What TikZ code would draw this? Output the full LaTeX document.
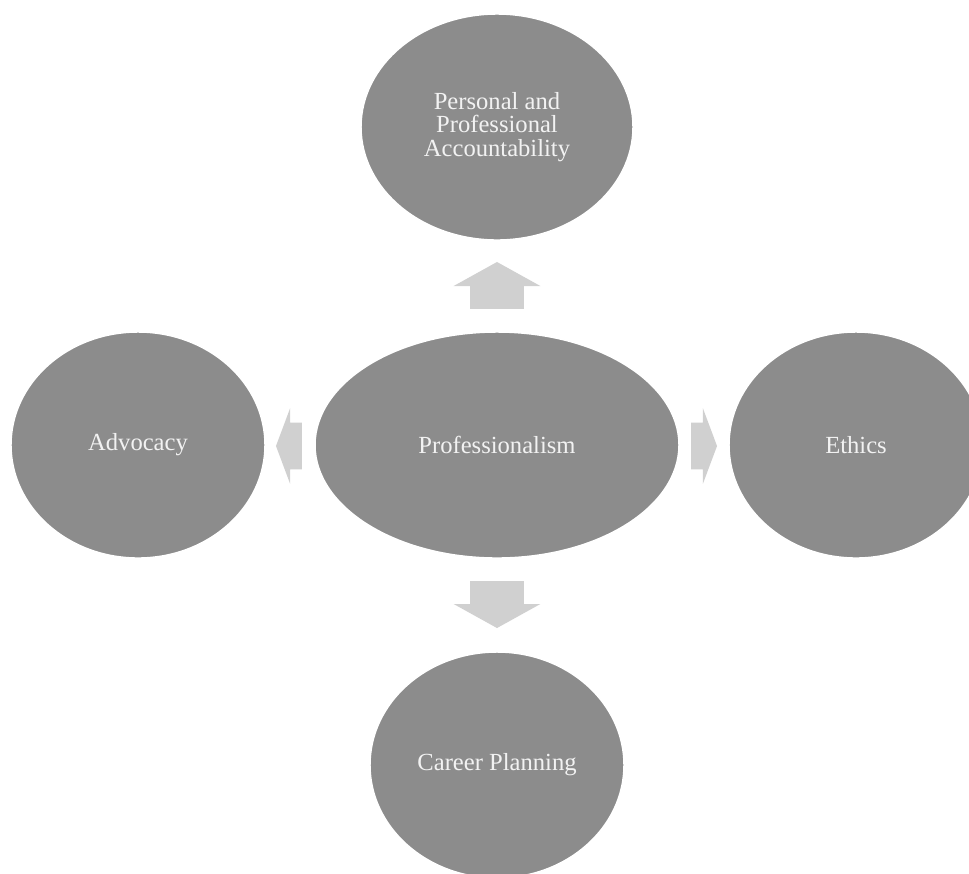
\documentclass[tikz,border=0pt]{standalone}
\usepackage{fontspec}
\setmainfont{Liberation Serif}
\usetikzlibrary{shapes.geometric,shapes.arrows,calc}
\definecolor{bubblegray}{HTML}{8C8C8C}
\definecolor{arrowgray}{HTML}{D0D0D0}
\definecolor{textwhite}{HTML}{F2F2F2}
\tikzset{
  bubble/.style={ellipse, fill=bubblegray, draw=white, line width=0.8pt, text=textwhite,
    align=center, inner sep=0pt, minimum height=4.52cm, font=\fontsize{14}{13.4}\selectfont},
  vblock/.style={single arrow, fill=arrowgray, draw=none, inner xsep=0pt, inner ysep=0.53cm,
    minimum height=0.94cm, single arrow head extend=0.33cm, single arrow tip angle=122, anchor=tail},
  hblock/.style={single arrow, fill=arrowgray, draw=none, inner xsep=0pt, inner ysep=0.46cm,
    minimum height=0.52cm, single arrow head extend=0.29cm, single arrow tip angle=139, anchor=tail}
}
\begin{document}
\begin{tikzpicture}[x=0.02cm, y=-0.02cm]
    \useasboundingbox (0,0) rectangle (969,873);
    \fill[white] (0,0) rectangle (969,873);
    \clip (0,0) rectangle (969,873);
    % the five bubbles
    \node[bubble, minimum width=5.44cm] (account) at (497,127) {Personal and\\Professional\\Accountability};
    \node[bubble, minimum width=7.28cm] (prof) at (497,445) {Professionalism};
    \node[bubble, minimum width=5.08cm] (advocacy) at (138,445) {Advocacy};
    \node[bubble, minimum width=5.08cm] (ethics) at (856,445) {Ethics};
    \node[bubble, minimum width=5.08cm] (career) at (497,765) {Career Planning};
    % block arrows out of the middle bubble
    \node[vblock, rotate=90] (toaccount) at ($(prof.north)+(0,-22)$) {};
    \node[vblock, rotate=-90] (tocareer) at ($(prof.south)+(0,22)$) {};
    \node[hblock, rotate=180] (toadvocacy) at ($(prof.west)+(-12,1)$) {};
    \node[hblock] (toethics) at ($(prof.east)+(11,1)$) {};
  \end{tikzpicture}
\end{document}
